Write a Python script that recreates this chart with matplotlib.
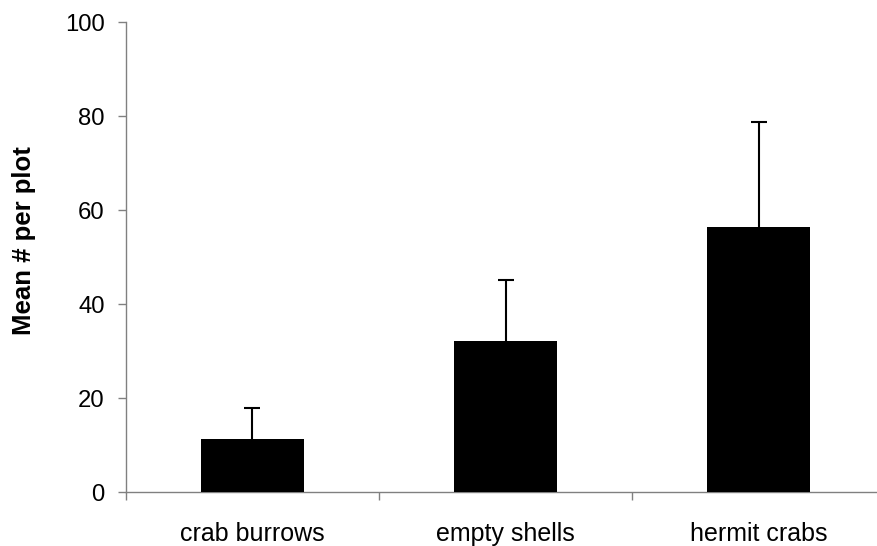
import matplotlib.pyplot as plt
from matplotlib.ticker import FixedLocator, NullFormatter

plt.rcParams['font.family'] = ['Liberation Sans', 'DejaVu Sans']

# mean counts per plot and upper error (SE)
categories = ['crab burrows', 'empty shells', 'hermit crabs']
means = [11.2, 32.1, 56.4]
errors = [6.7, 13.0, 22.3]

fig = plt.figure(figsize=(8.78, 5.46), dpi=100)
ax = fig.add_axes([0.1435, 0.0989, 0.8645, 0.8608])

x = list(range(len(categories)))
# bars drawn over the error bars so only the upper half shows
ax.bar(x, means, width=0.41, color='black', zorder=3)
ax.errorbar(x, means, yerr=errors, fmt='none',
            ecolor='black', elinewidth=1.5, capsize=5.8, capthick=1.5, zorder=2)

ax.set_xlim(-0.5, 2.5)
ax.set_ylim(0, 100)
ax.set_yticks([0, 20, 40, 60, 80, 100])

# ticks sit between categories, labels sit under the bars
ax.xaxis.set_major_locator(FixedLocator([-0.5, 0.5, 1.5, 2.5]))
ax.xaxis.set_major_formatter(NullFormatter())
ax.xaxis.set_minor_locator(FixedLocator(x))
ax.set_xticklabels(categories, minor=True)
ax.tick_params(axis='x', which='minor', length=0, pad=21.5, labelsize=18)
ax.tick_params(axis='x', which='major', length=5.8, width=1, color='#808080', direction='out')
ax.tick_params(axis='y', length=5.8, width=1, color='#808080', direction='out', labelsize=17.2, pad=9.6)

for side in ['top', 'right']:
    ax.spines[side].set_visible(False)
for side in ['left', 'bottom']:
    ax.spines[side].set_color('#808080')
    ax.spines[side].set_linewidth(1)

ax.set_ylabel('Mean # per plot', fontsize=18.5, fontweight='bold', labelpad=21)
ax.yaxis.label.set_y(0.536)

fig.savefig('out.png', dpi=100)
